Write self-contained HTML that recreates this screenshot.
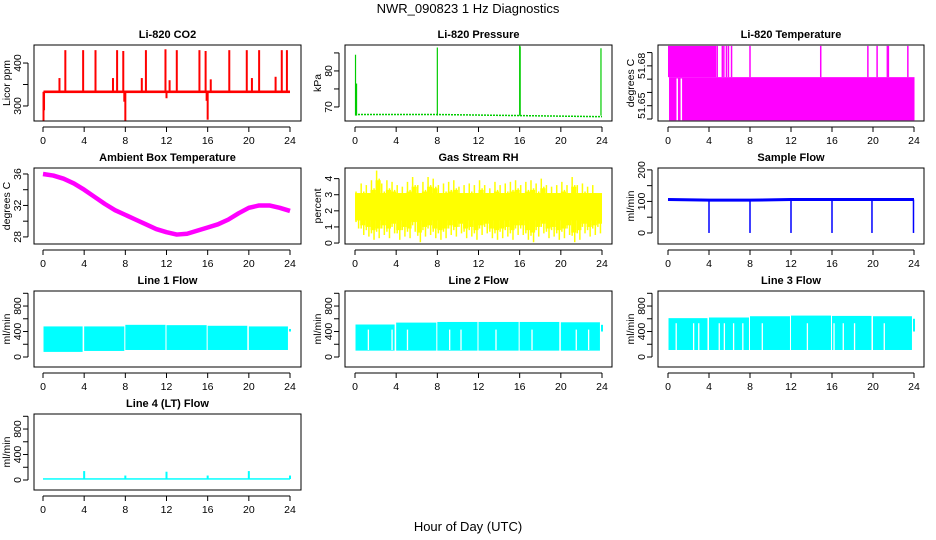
<!DOCTYPE html>
<html><head><meta charset="utf-8">
<style>
html,body{margin:0;padding:0;background:#fff;}
svg{display:block;font-family:"Liberation Sans",Arial,sans-serif;}
.t{font-size:11px;font-weight:bold;text-anchor:middle;}
.tk{font-size:10.5px;}
</style></head>
<body>
<svg id="c" width="936" height="540" viewBox="0 0 936 540">
<text x="468" y="13" text-anchor="middle" font-size="13">NWR_090823  1 Hz Diagnostics</text>
<text x="468" y="531" text-anchor="middle" font-size="13">Hour of Day (UTC)</text>
</svg>
<script>
// ---- data ----
const xTicks=[0,4,8,12,16,20,24];
const co2Base=333;
const co2SpikeT=[2.17,3.9,5.1,7.2,7.8,10.0,11.9,13.0,15.2,15.8,18.1,19.8,21.0,23.2,23.7,1.6,6.8,9.6,12.3,16.3,20.3,22.6,0.05,8.0,16.0,7.9,12.0,15.9,0.1];
const co2SpikeV=[430,430,430,430,428,430,432,430,430,428,430,430,430,430,430,365,365,365,360,362,365,368,265,265,268,310,318,312,290];
const presBaseT=[0,8,16,24];
const presBaseV=[67.9,67.9,67.6,67.3];
const presSpikeT=[0.05,0.15,8.0,16.0,16.05,23.9];
const presSpikeV=[84.5,76.5,86.5,87.0,86.8,86.3];
const tempLevels=[51.639,51.6715,51.695];
const tempTopBlock=[0,4.7];
const tempLowBlock=[0.1,24.05];
const tempLowGaps=[0.9,1.3];
const tempTopLines=[4.8,5.3,5.45,5.7,5.9,6.2,8.0,14.9,19.5,20.4,21.4,21.5,23.4];
const ambHours=[0,1,2,3,4,5,6,7,8,9,10,11,12,13,14,15,16,17,18,19,20,21,22,23,24];
const ambVals=[36.0,35.8,35.4,34.8,34.0,33.1,32.2,31.4,30.8,30.2,29.6,29.0,28.6,28.3,28.4,28.8,29.2,29.6,30.2,31.0,31.7,32.0,32.0,31.7,31.3];
const rhHigh=[3.2,3.7,3.6,3.9,4.5,3.7,3.9,3.8,3.6,3.5,3.8,4.1,3.6,3.8,4.1,4.0,3.6,3.7,3.8,3.9,3.5,3.6,3.7,3.6,3.9,3.6,3.4,3.8,3.6,3.7,3.8,3.9,3.6,3.8,3.9,3.7,4.0,3.6,3.5,3.6,3.8,3.6,4.1,3.6,3.7,3.5,3.6,3.0];
const rhLow=[0.9,0.5,0.4,0.2,0.3,0.5,0.3,0.6,0.2,0.4,0.3,0.7,0.05,0.4,0.5,0.3,0.2,0.3,0.5,0.4,0.6,0.3,0.4,0.2,0.5,0.6,0.3,0.2,0.3,0.4,0.2,0.5,0.5,0.2,0.05,0.4,0.6,0.3,0.4,0.2,0.3,0.5,0.05,0.2,0.6,0.4,0.5,0.6];
const flowBase=[106,104,104,106,106,106,106];
const flowDipT=[4.0,8.0,12.0,16.0,19.9,23.95];
const lineSegStart=[0.05,4.0,8.0,12.0,16.0,20.0];
const lineSegEnd=[3.85,7.9,11.9,15.9,19.85,23.8];
const line1Hi=[480,480,505,500,490,480];
const line1Lo=[80,95,110,110,110,110];
const line1Gaps=[];
const line2Hi=[510,540,550,550,550,545];
const line2Lo=[100,100,100,100,100,100];
const line2Gaps=[1.3,3.6,5.1,9.2,10.3,13.7,17.2,21.5,22.7];
const line3Hi=[610,620,640,650,645,640];
const line3Lo=[110,110,110,110,110,110];
const line3Gaps=[0.8,2.5,3.0,5.0,5.5,6.4,7.3,9.2,13.6,16.2,17.1,18.2,21.1];
const line4SpikeT=[4.0,8.0,12.0,16.0,20.0,24.0];
const line4SpikeV=[140,70,130,70,140,70];

// ---- layout ----
const svg=document.getElementById('c');
const NS='http://www.w3.org/2000/svg';
const cols=[{l:34,r:301,x0:43,x1:290},{l:345,r:612,x0:355,x1:602},{l:658,r:924,x0:668,x1:914}];
const rows=[45,168,291,414];
const H=76;
function el(tag,attrs,parent){const e=document.createElementNS(NS,tag);for(const k in attrs)e.setAttribute(k,attrs[k]);(parent||svg).appendChild(e);return e;}

function panel(name,title,ylab,col,row,ymin,ymax,yTicks,yLabels){
  const c=cols[col],top=rows[row],bot=top+H;
  const g=el('g',{});
  
  
  const xs=t=>c.x0+(c.x1-c.x0)*t/24;
  const ys=v=>bot-(v-ymin)/(ymax-ymin)*H;
  const data=el('g',{},g);
  
  
  const box=el('rect',{x:c.l,y:top,width:c.r-c.l,height:H,fill:'none',stroke:'#000','stroke-width':1},g);
  
  
  const tt=el('text',{x:(c.l+c.r)/2,y:top-7,class:'t'},g);tt.textContent=title;
  
  
  const yl=el('text',{transform:`translate(${c.l-24},${top+H/2}) rotate(-90)`,'text-anchor':'middle','font-size':10.5},g);yl.textContent=ylab;
  
  
  const xa=el('g',{},g);
  
  
  el('line',{x1:xs(0),x2:xs(24),y1:bot+6,y2:bot+6,stroke:'#000'},xa);
  xTicks.forEach(t=>{el('line',{x1:xs(t),x2:xs(t),y1:bot+6,y2:bot+11,stroke:'#000'},xa);
    const tx=el('text',{x:xs(t),y:bot+23,'text-anchor':'middle',class:'tk'},xa);tx.textContent=t;});
  const ya=el('g',{},g);
  
  
  el('line',{x1:c.l-6,x2:c.l-6,y1:ys(yTicks[0]),y2:ys(yTicks[yTicks.length-1]),stroke:'#000'},ya);
  yTicks.forEach((v,i)=>{el('line',{x1:c.l-11,x2:c.l-6,y1:ys(v),y2:ys(v),stroke:'#000'},ya);
    if(yLabels[i]!==''){const tx=el('text',{transform:`translate(${c.l-13},${ys(v)}) rotate(-90)`,'text-anchor':'middle',class:'tk'},ya);tx.textContent=yLabels[i];}});
  return {xs,ys,g:data};
}
function vline(p,t,v1,v2,color,w){el('line',{x1:p.xs(t),x2:p.xs(t),y1:p.ys(v1),y2:p.ys(v2),stroke:color,'stroke-width':w||1.5},p.g);}
function rect(p,t1,t2,v1,v2,color){const x=p.xs(t1),w=p.xs(t2)-x,y=p.ys(v2),h=p.ys(v1)-y;el('rect',{x,y,width:w,height:h,fill:color},p.g);}

// CO2
let p=panel('co2','Li-820 CO2','Licor ppm',0,0,265,442,[300,350,400],['300','','400']);
rect(p,0.05,24,co2Base-3,co2Base+3,'red');
co2SpikeT.forEach((t,i)=>vline(p,t,co2Base,co2SpikeV[i],'red',2));
// Pressure
p=panel('pressure','Li-820 Pressure','kPa',1,0,66.1,87.2,[70,75,80,85],['70','','80','']);
el('polyline',{points:presBaseT.map((t,i)=>p.xs(t)+','+p.ys(presBaseV[i])).join(' '),fill:'none',stroke:'#00cc00','stroke-width':1.5,'stroke-dasharray':'2 1'},p.g);
presSpikeT.forEach((t,i)=>vline(p,t,presBaseV[0]-0.3,presSpikeV[i],'#00cc00',1.2));
// Temperature
p=panel('temperature','Li-820 Temperature','degrees C',2,0,51.6385,51.6957,[51.64,51.65,51.66,51.67,51.68,51.69],['','51.65','','','51.68','']);
rect(p,tempTopBlock[0],tempTopBlock[1],tempLevels[1],tempLevels[2],'#ff00ff');
rect(p,tempLowBlock[0],tempLowBlock[1],tempLevels[0],tempLevels[1],'#ff00ff');
tempLowGaps.forEach(t=>vline(p,t,tempLevels[0],tempLevels[1]-0.001,'#fff',1.5));
tempTopLines.forEach(t=>vline(p,t,tempLevels[1],tempLevels[2],'#ff00ff',1.5));
// Ambient
p=panel('ambient','Ambient Box Temperature','degrees C',0,1,27.1,36.76,[28,30,32,34,36],['28','','32','','36']);
el('polyline',{points:ambHours.map((t,i)=>p.xs(t)+','+p.ys(ambVals[i])).join(' '),fill:'none',stroke:'#ff00ff','stroke-width':4.5,'stroke-linejoin':'round'},p.g);
// RH
p=panel('rh','Gas Stream RH','percent',1,1,-0.06,4.66,[0,1,2,3,4],['0','1','2','3','4']);
rect(p,0,24,1.4,3.1,'#ffff00');
rhHigh.forEach((h,i)=>{const t=(i+0.5)*0.5;vline(p,t-0.15,rhLow[i]+0.4,h,'#ffff00',1.5);vline(p,t+0.1,rhLow[i],h-0.5,'#ffff00',1.5);rect(p,t-0.25,t+0.25,Math.min(rhLow[i]+0.6,1.4),Math.max(h-0.6,3.1),'#ffff00');});
// Sample flow
p=panel('sample-flow','Sample Flow','ml/min',2,1,-35,206,[0,50,100,150,200],['0','','100','','200']);
el('polyline',{points:[0,4,8,12,16,20,24].map((t,i)=>p.xs(t)+','+p.ys(flowBase[i])).join(' '),fill:'none',stroke:'#0000ff','stroke-width':3},p.g);
flowDipT.forEach(t=>vline(p,t,flowBase[0],0,'#0000ff',1.5));
// line flows
function lineFlow(name,title,col,row,hi,lo,gaps){
  const q=panel(name,title,'ml/min',col,row,-157,1036,[0,200,400,600,800,1000],['0','','400','','800','']);
  lineSegStart.forEach((s,i)=>rect(q,s,lineSegEnd[i],lo[i],hi[i],'#00ffff'));
  gaps.forEach(t=>vline(q,t,110,hi[0]-80,'#fff',1.3));
  vline(q,24,400,hi[5]-40,'#00ffff',2);
  return q;
}
lineFlow('line1-flow','Line 1 Flow',0,2,line1Hi,line1Lo,line1Gaps);
lineFlow('line2-flow','Line 2 Flow',1,2,line2Hi,line2Lo,line2Gaps);
lineFlow('line3-flow','Line 3 Flow',2,2,line3Hi,line3Lo,line3Gaps);
p=panel('line4-flow','Line 4 (LT) Flow','ml/min',0,3,-157,1036,[0,200,400,600,800,1000],['0','','400','','800','']);
rect(p,0,24,5,28,'#00ffff');
line4SpikeT.forEach((t,i)=>vline(p,t,15,line4SpikeV[i],'#00ffff',2));
</script>
</body></html>
